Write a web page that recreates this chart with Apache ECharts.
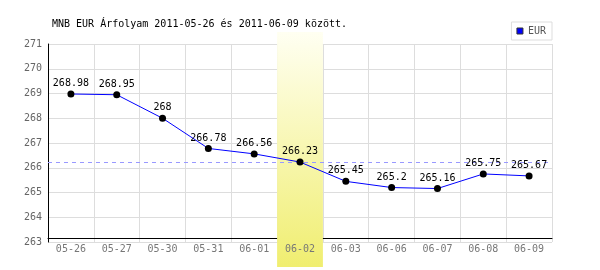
<!DOCTYPE html>
<html><head><meta charset="utf-8">
<script src="https://cdn.jsdelivr.net/npm/echarts@6/dist/echarts.min.js"></script>
<style>html,body{margin:0;padding:0;background:#fff}#c{width:600px;height:270px}</style>
</head><body><div id="c"></div>
<script>
const categories = ['05-26','05-27','05-30','05-31','06-01','06-02','06-03','06-06','06-07','06-08','06-09'];
const eurValues = [268.98,268.95,268,266.78,266.56,266.23,265.45,265.2,265.16,265.75,265.67];
const highlightIndex = 5;
const refLineValue = 266.23;
const titleText = 'MNB EUR Árfolyam 2011-05-26 és 2011-06-09 között.';
const seriesName = 'EUR';

const mono = 'DejaVu Sans Mono';
const highlightData = categories.map((c,i)=> i===highlightIndex ? 1 : null);

const chart = echarts.init(document.getElementById('c'));
chart.setOption({
  animation:false,
  title:{text:titleText,left:52,top:19,padding:0,textStyle:{fontFamily:mono,fontSize:10,fontWeight:'normal',color:'#000'}},
  legend:{data:[{name:seriesName,itemStyle:{color:'#0000ff',borderColor:'#333',borderWidth:1}}],
    right:48,top:22,padding:[4,6,4,5],borderColor:'#ddd',borderWidth:1,
    icon:'rect',itemWidth:6,itemHeight:6,itemGap:4,
    textStyle:{fontFamily:mono,fontSize:10,color:'#555'}},
  grid:[{left:48,right:48,top:44,bottom:28},{left:48,right:48,top:32,bottom:3}],
  xAxis:[{type:'category',data:categories,gridIndex:0,offset:-4,
      axisLine:{lineStyle:{color:'#000',width:1}},axisTick:{show:false},
      axisLabel:{fontFamily:mono,fontSize:10,color:'#777',margin:6},
      splitLine:{show:true,lineStyle:{color:'#ddd',width:1}}},
    {type:'category',data:categories,gridIndex:1,show:false}],
  yAxis:[{type:'value',min:263,max:271,interval:1,gridIndex:0,
      axisLine:{show:true,lineStyle:{color:'#000'}},axisTick:{show:false},
      axisLabel:{fontFamily:mono,fontSize:10,color:'#666',margin:6},
      splitLine:{lineStyle:{color:'#ddd',width:1}}},
    {type:'value',min:0,max:1,gridIndex:1,show:false}],
  series:[
    {type:'bar',xAxisIndex:1,yAxisIndex:1,data:highlightData,barWidth:'100%',silent:true,z:0,
      itemStyle:{color:new echarts.graphic.LinearGradient(0,0,0,1,[{offset:0,color:'#fffff2'},{offset:1,color:'#f0ee70'}])}},
    {type:'line',name:seriesName,data:eurValues,z:5,
      lineStyle:{color:'#0000ff',width:1},symbol:'circle',symbolSize:7,
      itemStyle:{color:'#000'},
      label:{show:true,position:'top',distance:2,fontFamily:mono,fontSize:10,color:'#000'},
      markLine:{silent:true,symbol:'none',label:{show:false},
        lineStyle:{color:'#9999ff',type:[4,4],width:1},data:[{yAxis:refLineValue}]}}
  ]
});
</script></body></html>
